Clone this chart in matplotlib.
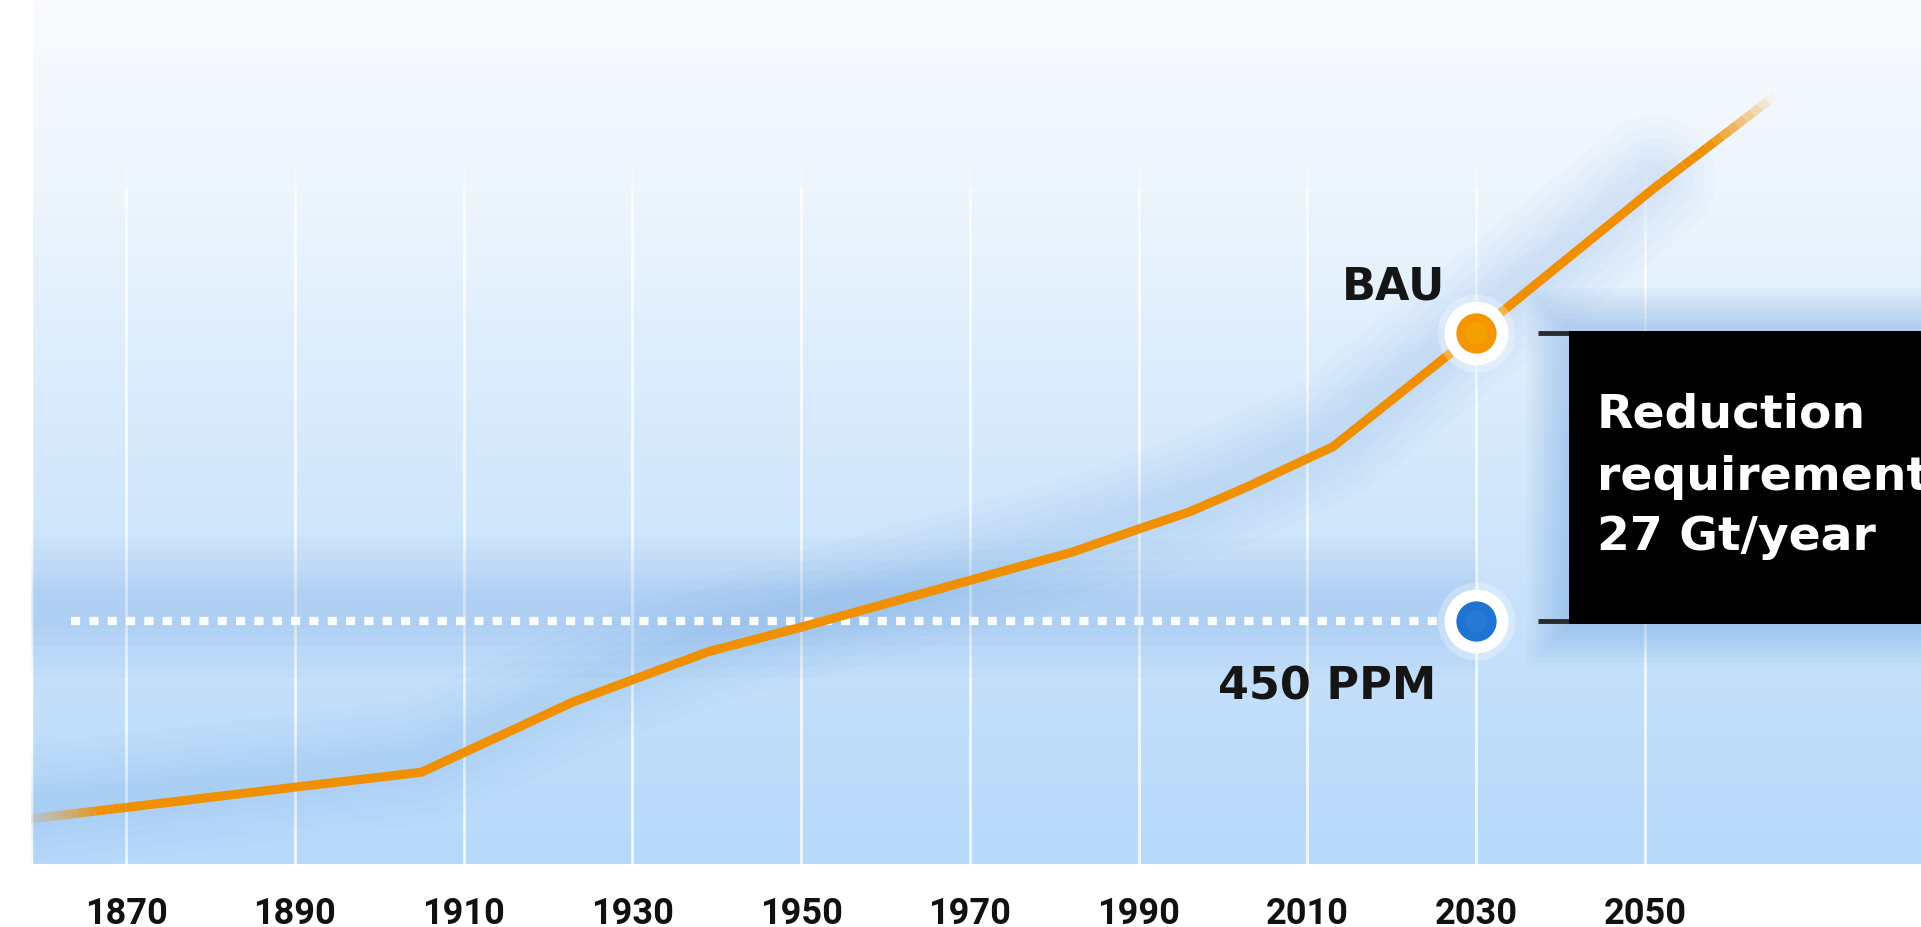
import numpy as np
import matplotlib
matplotlib.use('Agg')
import matplotlib.pyplot as plt
from matplotlib.colors import LinearSegmentedColormap, to_rgb
from matplotlib.collections import LineCollection
from matplotlib.patches import Rectangle

# emissions path (arbitrary Gt scale)
years = [1858.3, 1870, 1890, 1905, 1923, 1939, 1950, 1976, 1982, 1990, 1996, 2003, 2010, 2013, 2030, 2051, 2065.4]
emissions = [4.2, 5.3, 7.2, 8.6, 15.2, 19.9, 22.2, 27.9, 29.2, 31.4, 33.0, 35.4, 38.0, 39.1, 49.8, 63.3, 72.0]

tick_years = [1870, 1890, 1910, 1930, 1950, 1970, 1990, 2010, 2030, 2050]
target_year = 2030
bau_2030 = 49.8
ppm450_level = 22.8
dotted_start = 1863.5

bau_label = 'BAU'
ppm_label = '450 PPM'
box_lines = ['Reduction', 'requirement', '27 Gt/year']

x_min, x_max = 1858.74, 2082.7
y_min, y_max = 0, 81.07

orange = '#f09000'
blue = '#1f74d3'
glow = '#5b97dc'

fig = plt.figure(figsize=(19.21, 9.28), dpi=100)
fig.patch.set_facecolor('white')
ax = fig.add_axes([31/1921, 63/928, 1890/1921, 865/928])
ax.set_xlim(x_min, x_max)
ax.set_ylim(y_min, y_max)

# background gradient
bg = LinearSegmentedColormap.from_list('bg', [
    (0.0, '#b8d9fa'), (0.3, '#c8e2fb'), (0.55, '#dbecfc'),
    (0.78, '#edf5fd'), (1.0, '#f9fbfe')])
grad = np.linspace(0, 1, 256).reshape(-1, 1)
ax.imshow(grad, extent=[x_min, x_max, y_min, y_max], aspect='auto',
          cmap=bg, origin='lower', zorder=0)

# grid lines
grid_top = 63.5
ax.vlines(tick_years, y_min, grid_top, color='white', lw=2.0, alpha=0.8, zorder=1)
ax.vlines(tick_years, grid_top, grid_top + 2.2, color='white', lw=2.0, alpha=0.3, zorder=1)
ax.axvline(x_min, color='white', lw=2.5, zorder=1)

# soft blue glows
for w in [100, 84, 68, 54, 40, 28]:
    ax.plot([x_min, target_year], [ppm450_level + 1.2] * 2, color=glow,
            lw=w, alpha=0.035, solid_capstyle='butt', zorder=2)
for w in [90, 74, 58, 44, 32, 22]:
    ax.plot(years[:-1], np.array(emissions[:-1]) + 1.0, color=glow, lw=w, alpha=0.028,
            solid_capstyle='round', solid_joinstyle='round', zorder=2)

# box shadow
box_x0 = 2041.0
box_y0, box_y1 = 22.5, 50.0
for k in range(1, 11):
    dx = k * 0.5
    dy = k * 0.4
    ax.add_patch(Rectangle((box_x0 - dx, box_y0 - dy), 60, box_y1 - box_y0 + 2 * dy,
                           color=glow, alpha=0.04, lw=0, zorder=2))

# dotted 450 ppm line
ax.plot([dotted_start, target_year], [ppm450_level] * 2, color='white', lw=6,
        ls=(0, (1.1, 1.1)), dash_capstyle='butt', alpha=0.95, zorder=3)

# main line with faded ends
lw = 6.5
rgb = to_rgb(orange)


def faded_piece(x0, y0, x1, y1, alpha_fn, n=16):
    t = np.linspace(0, 1, n + 1)
    xs = x0 + (x1 - x0) * t
    ys = y0 + (y1 - y0) * t
    segs = [[(xs[i], ys[i]), (xs[i + 1], ys[i + 1])] for i in range(n)]
    tm = (t[:-1] + t[1:]) / 2
    cols = [(rgb[0], rgb[1], rgb[2], float(alpha_fn(v))) for v in tm]
    return LineCollection(segs, colors=cols, linewidths=lw, capstyle='butt', zorder=4)


ax.add_collection(faded_piece(years[0], emissions[0], years[1], emissions[1],
                              lambda v: 0.12 + 0.88 * min(1, v / 0.75) ** 1.3))
ax.add_collection(faded_piece(years[-2], emissions[-2], years[-1], emissions[-1],
                              lambda v: 1.0 if v < 0.45 else max(0.05, 1 - (v - 0.45) / 0.55)))
ax.plot(years[1:-1], emissions[1:-1], color=orange, lw=lw,
        solid_joinstyle='round', solid_capstyle='butt', zorder=4)

# bracket ticks and box
for yv in [bau_2030, ppm450_level]:
    ax.plot([2037.3, box_x0], [yv, yv], color='#2b2b2b', lw=3.5,
            solid_capstyle='butt', zorder=5)
ax.add_patch(Rectangle((box_x0, box_y0), 60, box_y1 - box_y0, color='black',
                       lw=0, zorder=6))

# markers
for yv, c, hi in [(bau_2030, '#f39600', '#f6ad00'), (ppm450_level, blue, '#2f82dc')]:
    ax.plot(target_year, yv, 'o', ms=56, color='white', alpha=0.3, mec='none', zorder=7)
    ax.plot(target_year, yv, 'o', ms=46, color='white', mec='none', zorder=7)
    ax.plot(target_year, yv, 'o', ms=29, color=c, mec='none', zorder=8)
    ax.plot(target_year, yv, 'o', ms=16, color=hi, alpha=0.5, mec='none', zorder=8)

# labels
ax.text(2026.3, 53.0, bau_label, ha='right', va='baseline', fontsize=32,
        fontweight='bold', family='DejaVu Sans', color='#151515', zorder=9)
ax.text(2025.3, 15.5, ppm_label, ha='right', va='baseline', fontsize=32,
        fontweight='bold', family='DejaVu Sans', color='#151515', zorder=9)

box_baselines = [41.0, 35.1, 29.5]
for s, yb in zip(box_lines, box_baselines):
    ax.text(2044.3, yb, s, ha='left', va='baseline', fontsize=34,
            fontweight='bold', family='DejaVu Sans', color='white', zorder=10)

# axis styling
ax.set_xticks(tick_years)
ax.set_xticklabels([str(y) for y in tick_years], fontsize=26, fontweight='bold',
                   family='Roboto', color='#111111')
ax.tick_params(axis='x', length=0, pad=22)
ax.set_yticks([])
for sp in ax.spines.values():
    sp.set_visible(False)

fig.savefig('out.png', dpi=100)
